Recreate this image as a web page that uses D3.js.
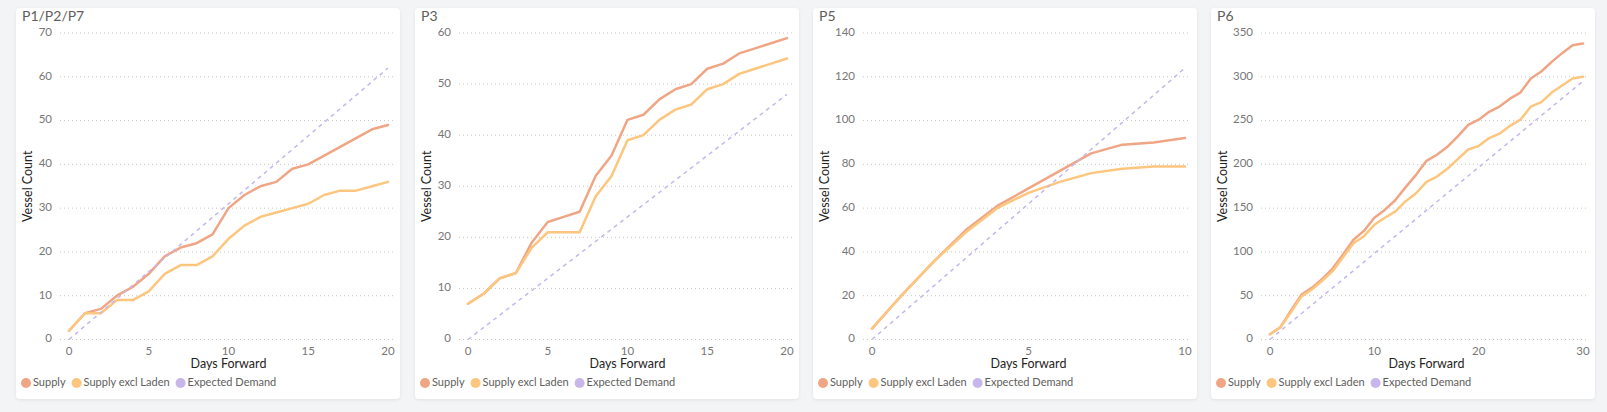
<!DOCTYPE html>
<html>
<head>
<meta charset="utf-8">
<script src="https://cdn.jsdelivr.net/npm/d3@7"></script>
<style>
  html, body { margin: 0; padding: 0; background: #f3f4f6; }
  body { width: 1607px; height: 412px; overflow: hidden; font-family: Lato, Roboto, sans-serif; }
  svg { display: block; }
</style>
</head>
<body>
<svg id="chart" width="1607" height="412"></svg>
<script>
// ---------- DATA ----------
const panelTitles = ["P1/P2/P7", "P3", "P5", "P6"];
const seriesNames = ["Supply", "Supply excl Laden", "Expected Demand"];
const seriesColors = ["#F0A585", "#FDC67E", "#C6B6EA"];

const p1Supply = [2, 6, 7, 10, 12, 15, 19, 21, 22, 24, 30, 33, 35, 36, 39, 40, 42, 44, 46, 48, 49];
const p1Excl   = [2, 6, 6, 9, 9, 11, 15, 17, 17, 19, 23, 26, 28, 29, 30, 31, 33, 34, 34, 35, 36];
const p1Demand = [[0, 0], [20, 62]];

const p3Supply = [7, 9, 12, 13, 19, 23, 24, 25, 32, 36, 43, 44, 47, 49, 50, 53, 54, 56, 57, 58, 59];
const p3Excl   = [7, 9, 12, 13, 18, 21, 21, 21, 28, 32, 39, 40, 43, 45, 46, 49, 50, 52, 53, 54, 55];
const p3Demand = [[0, 0], [20, 48]];

const p5Supply = [5, 21, 36, 50, 61, 69, 77, 85, 89, 90, 92];
const p5Excl   = [5, 21, 36, 49, 60, 67, 72, 76, 78, 79, 79];
const p5Demand = [[0, 0], [10, 124]];

const p6Supply = [6, 14, 33, 51, 59, 69, 81, 97, 114, 124, 139, 148, 159, 174, 188, 204, 211, 220, 232, 245, 251, 260, 266, 275, 282, 298, 306, 317, 327, 336, 338];
const p6Excl   = [6, 14, 31, 49, 57, 67, 78, 94, 110, 118, 131, 139, 146, 158, 167, 180, 186, 195, 206, 217, 221, 230, 235, 244, 251, 266, 271, 282, 290, 298, 300];
const p6Demand = [[0, 0], [30, 295]];

const xMaxes = [20, 20, 10, 30];
const xTickSteps = [5, 5, 5, 10];
const yMaxes = [70, 60, 140, 350];
const yTickSteps = [10, 10, 20, 50];

const xTitle = "Days Forward";
const yTitle = "Vessel Count";

const panelsData = [
  [p1Supply, p1Excl, p1Demand],
  [p3Supply, p3Excl, p3Demand],
  [p5Supply, p5Excl, p5Demand],
  [p6Supply, p6Excl, p6Demand]
];

// ---------- LAYOUT ----------
const panelX = [16, 415, 813, 1211];
const panelY = 8, panelW = 384, panelH = 391;
const plotTop = 33 - panelY, plotBottom = 339.5 - panelY;
const plotRight = 372;

const svg = d3.select("#chart");
const defs = svg.append("defs");
const f = defs.append("filter").attr("id", "shadow").attr("x", "-5%").attr("y", "-5%").attr("width", "110%").attr("height", "110%");
f.append("feDropShadow").attr("dx", 0).attr("dy", 1).attr("stdDeviation", 1.5).attr("flood-color", "#000").attr("flood-opacity", 0.08);

panelsData.forEach((pd, i) => {
  const g = svg.append("g").attr("transform", `translate(${panelX[i]},${panelY})`);
  g.append("rect").attr("width", panelW).attr("height", panelH).attr("rx", 4).attr("fill", "#fff").attr("filter", "url(#shadow)");

  const plotLeft = yMaxes[i] >= 100 ? 59 : 53;
  const x = d3.scaleLinear().domain([0, xMaxes[i]]).range([plotLeft, plotRight]);
  const y = d3.scaleLinear().domain([0, yMaxes[i]]).range([plotBottom, plotTop]);

  // title
  g.append("text").attr("x", 6).attr("y", 9.5).text(panelTitles[i])
    .attr("font-size", 14).attr("fill", "#605E5C").attr("dominant-baseline", "middle");

  // y grid + labels
  const yTicks = d3.range(0, yMaxes[i] + 0.001, yTickSteps[i]);
  const gy = g.append("g");
  yTicks.forEach(t => {
    gy.append("line").attr("x1", plotLeft - 9).attr("x2", 378).attr("y1", y(t)).attr("y2", y(t))
      .attr("stroke", "#C8C6C4").attr("stroke-width", 1).attr("stroke-dasharray", "1,3");
    gy.append("text").attr("x", plotLeft - 17).attr("y", y(t)).text(t)
      .attr("text-anchor", "end").attr("dominant-baseline", "middle")
      .attr("font-size", 11.5).attr("fill", "#777");
  });

  // x labels
  const xTicks = d3.range(0, xMaxes[i] + 0.001, xTickSteps[i]);
  xTicks.forEach(t => {
    g.append("text").attr("x", x(t)).attr("y", 352 - panelY).text(t)
      .attr("text-anchor", "middle").attr("dominant-baseline", "middle")
      .attr("font-size", 11.5).attr("fill", "#777");
  });

  // axis titles
  g.append("text").attr("x", (plotLeft + plotRight) / 2).attr("y", 364.5 - panelY).text(xTitle)
    .attr("text-anchor", "middle").attr("dominant-baseline", "middle")
    .attr("font-size", 12.5).attr("fill", "#252423");
  g.append("text").attr("transform", `translate(12.5,${(plotTop + plotBottom) / 2}) rotate(-90)`).text(yTitle)
    .attr("text-anchor", "middle").attr("dominant-baseline", "middle")
    .attr("font-size", 12.5).attr("fill", "#252423");

  // lines
  const line = d3.line().x(d => x(d[0])).y(d => y(d[1]));
  const supply = pd[0].map((v, k) => [k, v]);
  const excl = pd[1].map((v, k) => [k, v]);
  g.append("path").attr("d", line(supply)).attr("fill", "none").attr("stroke", seriesColors[0])
    .attr("stroke-width", 2.5).attr("stroke-linejoin", "round").attr("stroke-linecap", "round");
  g.append("path").attr("d", line(excl)).attr("fill", "none").attr("stroke", seriesColors[1])
    .attr("stroke-width", 2.5).attr("stroke-linejoin", "round").attr("stroke-linecap", "round");
  g.append("path").attr("d", line(pd[2])).attr("fill", "none").attr("stroke", seriesColors[2])
    .attr("stroke-width", 1.5).attr("stroke-dasharray", "4,4");

  // legend
  const lg = g.append("g").attr("transform", `translate(0,${383 - panelY})`);
  let lx = 5;
  seriesNames.forEach((name, k) => {
    lg.append("circle").attr("cx", lx + 5).attr("cy", 0).attr("r", 5).attr("fill", seriesColors[k]);
    const t = lg.append("text").attr("x", lx + 12).attr("y", 0).text(name)
      .attr("dominant-baseline", "middle").attr("font-size", 11).attr("fill", "#605E5C");
    lx += 12 + t.node().getComputedTextLength() + 6;
  });
});
</script>
</body>
</html>
